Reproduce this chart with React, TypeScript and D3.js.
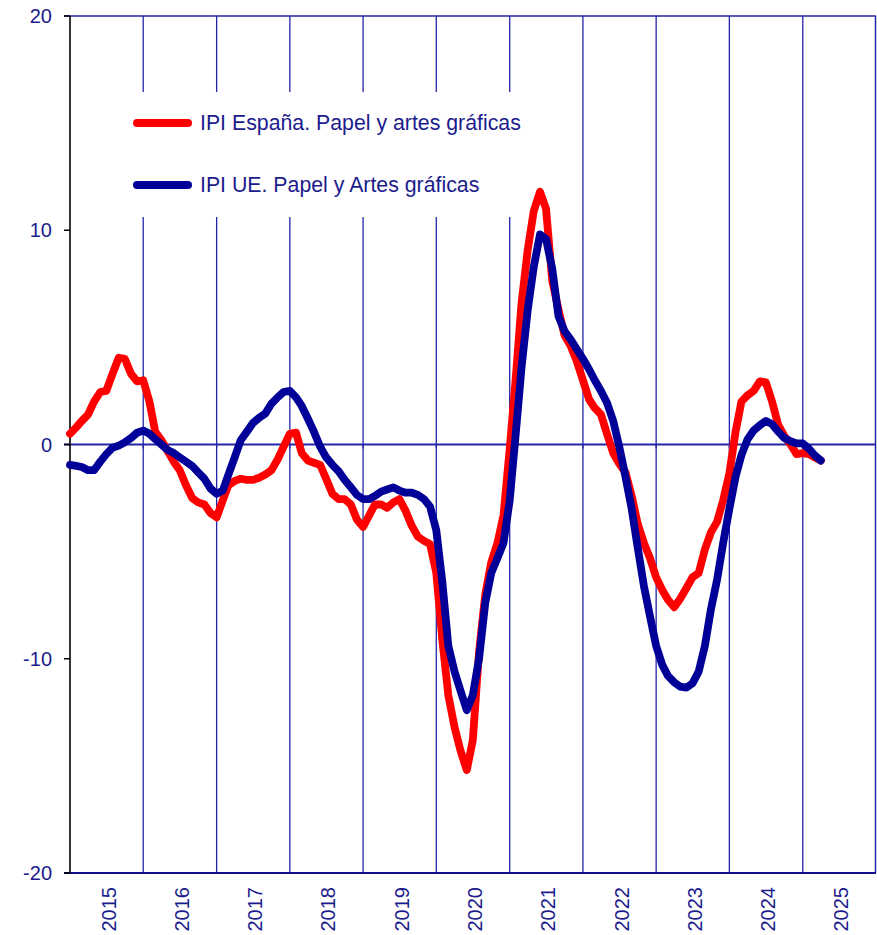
import React, { useEffect } from "react";
import * as d3 from "d3";

// tasa de variación, medias móviles (lectura aproximada del gráfico), ene-2015 .. abr-2025
const years = [2015, 2016, 2017, 2018, 2019, 2020, 2021, 2022, 2023, 2024, 2025];
const yTicks = [-20, -10, 0, 10, 20];

const espana = [
  0.5, 0.8, 1.1, 1.4, 2.0, 2.45, 2.5, 3.3, 4.05, 4.0, 3.3, 2.95,
  3.0, 2.0, 0.6, 0.2, -0.3, -0.8, -1.2, -1.9, -2.5, -2.7, -2.8, -3.2,
  -3.4, -2.6, -1.9, -1.7, -1.6, -1.65, -1.65, -1.55, -1.4, -1.2, -0.7, -0.1,
  0.5, 0.55, -0.4, -0.75, -0.85, -0.95, -1.6, -2.3, -2.55, -2.55, -2.8, -3.5,
  -3.85, -3.3, -2.8, -2.8, -2.95, -2.7, -2.55, -3.1, -3.8, -4.3, -4.5, -4.65,
  -6.0, -9.2, -11.7, -13.2, -14.3, -15.2, -13.8, -9.7, -7.0, -5.5, -4.6, -3.3,
  -0.2, 3.2, 6.6, 9.1, 10.9, 11.8, 11.0, 7.65, 6.3, 5.1, 4.6, 3.9,
  3.0, 2.1, 1.7, 1.4, 0.5, -0.4, -0.9, -1.3, -2.4, -3.7, -4.6, -5.3,
  -6.2, -6.8, -7.25, -7.6, -7.2, -6.7, -6.2, -6.0, -4.9, -4.1, -3.6, -2.6,
  -1.35, 0.6, 2.0, 2.3, 2.5, 2.95, 2.9, 2.0, 0.9, 0.4, 0.0, -0.45,
  -0.4, -0.45, -0.6, -0.75,
];

const ue = [
  -0.95, -1.0, -1.05, -1.2, -1.2, -0.8, -0.45, -0.15, -0.05, 0.1, 0.3, 0.55,
  0.65, 0.5, 0.25, 0.0, -0.25, -0.4, -0.6, -0.8, -1.0, -1.3, -1.6, -2.05,
  -2.3, -2.15, -1.4, -0.6, 0.2, 0.6, 1.0, 1.25, 1.45, 1.9, 2.2, 2.45,
  2.5, 2.2, 1.8, 1.2, 0.6, -0.1, -0.6, -0.95, -1.25, -1.65, -2.0, -2.35,
  -2.55, -2.55, -2.4, -2.2, -2.1, -2.0, -2.15, -2.25, -2.25, -2.35, -2.55, -2.9,
  -4.0, -6.5, -9.4, -10.6, -11.5, -12.4, -11.7, -10.0, -7.4, -6.0, -5.3, -4.6,
  -2.6, 0.6, 3.6, 6.3, 8.3, 9.8, 9.6, 8.2, 6.0, 5.3, 4.9, 4.45,
  4.0, 3.5, 3.0, 2.5, 1.95, 1.1, -0.1, -1.5, -3.0, -4.8, -6.6, -8.0,
  -9.4, -10.3, -10.8, -11.1, -11.3, -11.35, -11.15, -10.6, -9.4, -7.7, -6.3, -4.6,
  -3.0, -1.5, -0.5, 0.25, 0.65, 0.9, 1.1, 0.95, 0.6, 0.3, 0.15, 0.05,
  0.05, -0.2, -0.5, -0.75,
];

const series = [
  { name: "IPI España. Papel y artes gráficas", values: espana, color: "#ff0000" },
  { name: "IPI UE. Papel y Artes gráficas", values: ue, color: "#000099" },
];

const width = 877;
const height = 935;
const left = 70;
const right = 876;
const top = 16;
const bottom = 873;
const textColor = "#1c1c8c";
const gridColor = "#2424a8";

export default function App() {
  useEffect(() => {
    document.body.style.margin = "0";
  }, []);

  const months = d3.timeMonth.range(new Date(2015, 0, 1), new Date(2025, 4, 1));
  const x = d3
    .scaleTime()
    .domain([new Date(2015, 0, 1), new Date(2026, 0, 1)])
    .range([left, right]);
  const y = d3.scaleLinear().domain([-20, 20]).range([bottom, top]);

  const line = d3
    .line<number>()
    .x((d, i) => x(months[i]))
    .y(d => y(d));

  const bounds = years.slice(1).map(yr => x(new Date(yr, 0, 1)));

  return (
    <svg width={width} height={height} style={{ display: "block", fontFamily: "'Liberation Sans', Arial, sans-serif" }}>
      <rect width={width} height={height} fill="#fff" />
      {/* year gridlines */}
      {bounds.map((bx, i) => (
        <line key={i} x1={bx} x2={bx} y1={top} y2={bottom} stroke={gridColor} strokeWidth={1.3} />
      ))}
      {/* legend background hides the gridlines */}
      <rect x={100} y={92} width={445} height={125} fill="#fff" />
      {/* frame */}
      <line x1={64} x2={right} y1={top} y2={top} stroke={gridColor} strokeWidth={1.5} />
      <line x1={right - 0.5} x2={right - 0.5} y1={top} y2={bottom} stroke={gridColor} strokeWidth={1.5} />
      <line x1={64} x2={right} y1={bottom} y2={bottom} stroke="#10108c" strokeWidth={2.2} />
      <line x1={64} x2={right} y1={y(0)} y2={y(0)} stroke={gridColor} strokeWidth={1.8} />
      {bounds.map((bx, i) => (
        <line key={i} x1={bx} x2={bx} y1={y(0)} y2={y(0) + 4} stroke={gridColor} strokeWidth={1.3} />
      ))}
      {/* y axis */}
      <line x1={left} x2={left} y1={top} y2={bottom} stroke="#000" strokeWidth={1.6} />
      {yTicks.map(t => (
        <g key={t} transform={`translate(0,${y(t)})`}>
          <line x1={64} x2={left} stroke="#000" strokeWidth={1.5} />
          <text x={52} dy="0.35em" textAnchor="end" fontSize={20} fill={textColor}>
            {t}
          </text>
        </g>
      ))}
      {/* x labels */}
      {years.map(yr => {
        const cx = (x(new Date(yr, 0, 1)) + x(new Date(yr + 1, 0, 1))) / 2 + 2;
        return (
          <text
            key={yr}
            transform={`translate(${cx},887) rotate(-90)`}
            textAnchor="end"
            dy="0.35em"
            fontSize={20}
            fill={textColor}
          >
            {yr}
          </text>
        );
      })}
      {/* series */}
      {series.map(s => (
        <path
          key={s.name}
          d={line(s.values) || ""}
          fill="none"
          stroke={s.color}
          strokeWidth={7.8}
          strokeLinejoin="round"
          strokeLinecap="round"
        />
      ))}
      {/* legend */}
      {series.map((s, i) => (
        <g key={s.name} transform={`translate(0,${123 + i * 62})`}>
          <line x1={137} x2={188} stroke={s.color} strokeWidth={8} strokeLinecap="round" />
          <text x={200} dy="0.35em" fontSize={21.3} fill={textColor}>
            {s.name}
          </text>
        </g>
      ))}
    </svg>
  );
}
